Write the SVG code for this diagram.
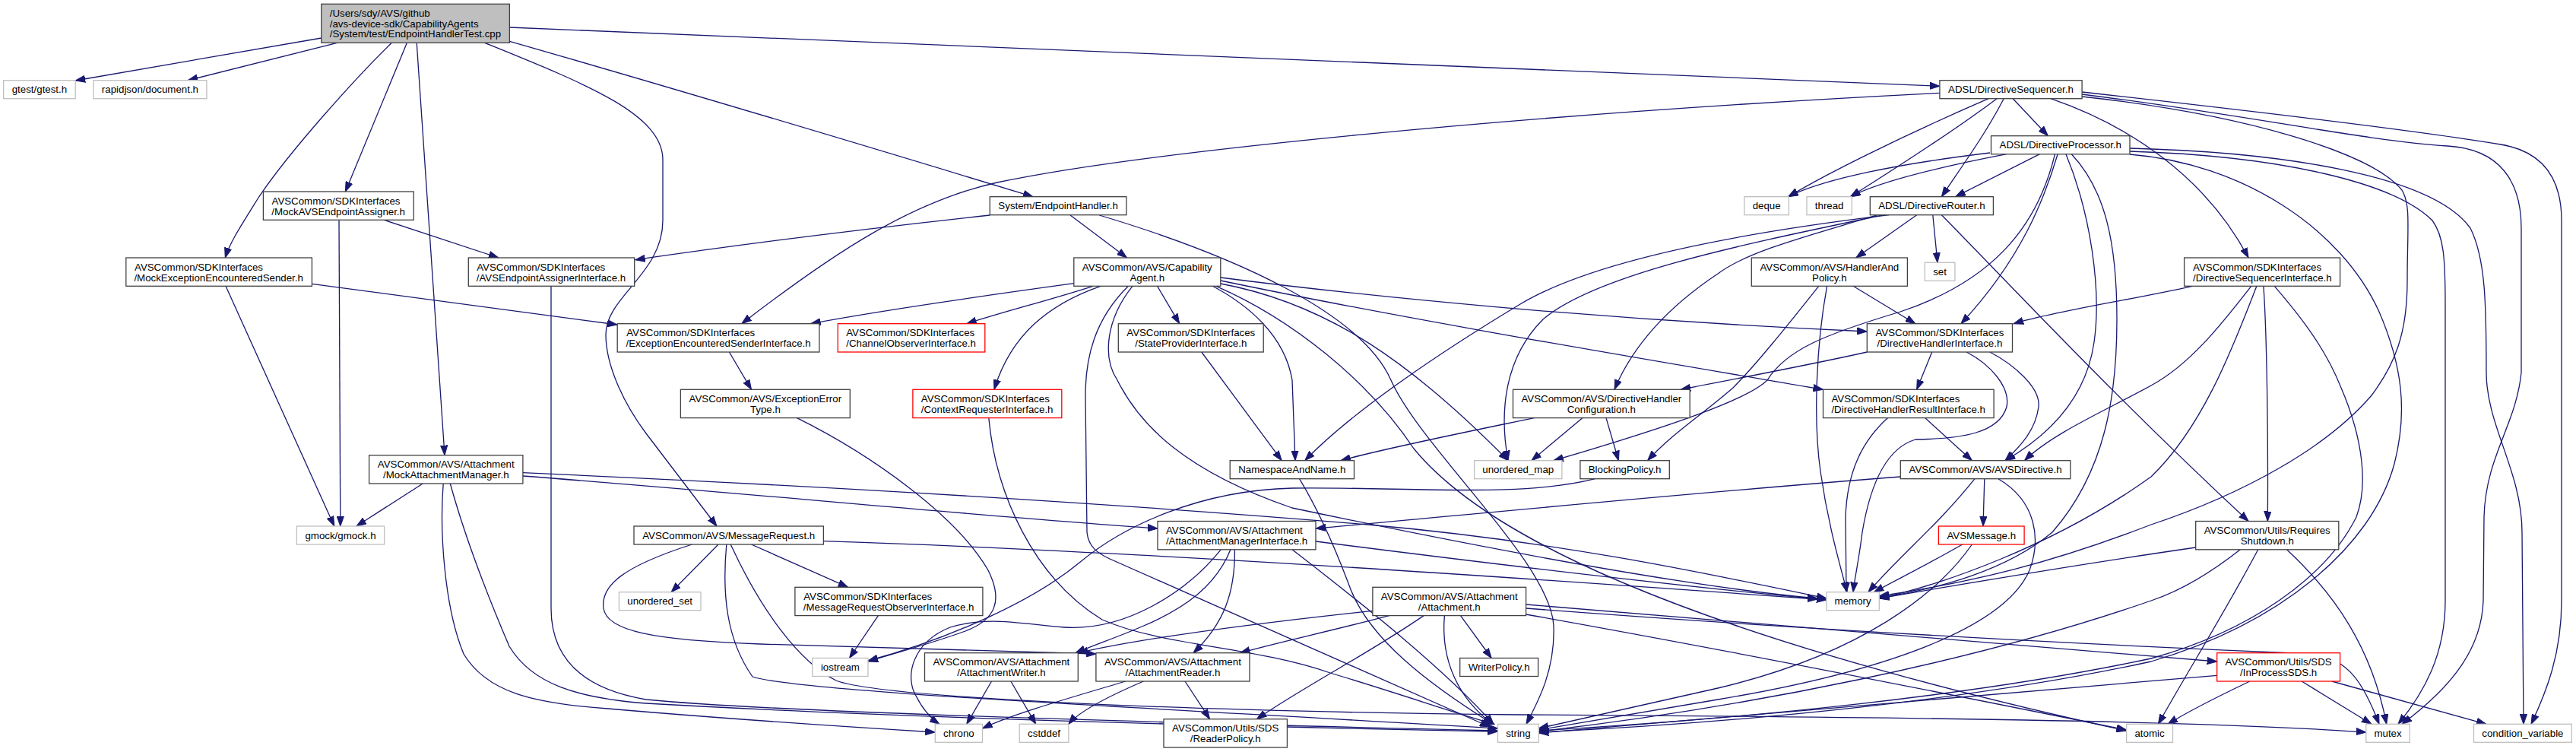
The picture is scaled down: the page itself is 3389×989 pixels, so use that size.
<svg xmlns="http://www.w3.org/2000/svg" width="3389" height="989" viewBox="0 0 3389 989">
<defs>
<marker id="ah" markerUnits="userSpaceOnUse" markerWidth="14" markerHeight="10" refX="13" refY="5" orient="auto">
<path d="M0,0.4 L13,5 L0,9.6 z" fill="#191970" stroke="#191970" stroke-width="1"/>
</marker>
<style>
.n rect{fill:#fff;stroke:#404040;stroke-width:1.3}
.g rect{stroke:#bfbfbf}
.r rect{stroke:#ff0000}
.root rect{fill:#bfbfbf}
text{font-family:"Liberation Sans",Arial,Helvetica,sans-serif;font-size:13.3px;fill:#000}
.c{text-anchor:middle}
#edges path{fill:none;stroke:#191970;stroke-width:1.3;marker-end:url(#ah)}
</style>
</defs>
<rect width="3389" height="989" fill="#fff"/>
<g id="edges">
<path d="M422.8,50 L99.2,106"/>
<path d="M443.5,56.3 L247.2,105.7"/>
<path d="M515.4,56.3 C470,100 380,200 340,260 C315,300 302,320 296.3,339"/>
<path d="M535.4,56.3 L454.4,252"/>
<path d="M548.2,56.3 L585,598.7"/>
<path d="M637.7,56.3 C770,110 872,150 872,210 L872,290 C872,360 797,390 797,440 C797,480 820,530 850,570 L943,692"/>
<path d="M670.4,54.3 C900,120 1100,180 1359,258.7"/>
<path d="M670.4,36 L2551.9,113.3"/>
<path d="M446,289.3 L447.8,692"/>
<path d="M505.3,289.3 L655.9,339"/>
<path d="M297,376.3 L439.8,692"/>
<path d="M410.4,373.3 L812,427"/>
<path d="M1302.3,283 C1100,305 950,325 835.8,341.7"/>
<path d="M1408.1,283 L1482.6,339"/>
<path d="M1446.3,283 C1620,335 1790,410 1830,500 C1870,590 2040,740 2044,823 C2046,880 2025,920 2008,952.3"/>
<path d="M1412.8,372.7 C1250,395 1150,410 1066.6,425.7"/>
<path d="M1438,376.3 C1380,395 1320,410 1271.8,425.7"/>
<path d="M1448,376.3 C1380,400 1330,440 1308,512.3"/>
<path d="M1522.6,376.3 L1551.7,425.7"/>
<path d="M1595.3,376.3 C1640,400 1690,440 1700,500 L1704,605.7"/>
<path d="M1484.4,376.3 C1440,420 1428,470 1428,520 L1430,700 C1432,720 1445,728 1460,735 L1960,956"/>
<path d="M1489.9,376.3 C1455,420 1450,470 1470,500 C1500,560 1560,620 1700,668 C1900,710 2200,770 2390.9,787"/>
<path d="M1605.8,365 C1800,390 2100,420 2456.3,436"/>
<path d="M1605.8,369 C1850,420 2150,470 2398.5,512.3"/>
<path d="M1605.8,373 C1750,400 1860,480 1984,605.7"/>
<path d="M1600,376.3 C1700,420 1800,500 1860,590 C1950,700 2200,830 2797.6,961"/>
<path d="M2648.2,129.7 L2694.4,178.7"/>
<path d="M2616.2,129.7 C2500,180 2400,230 2352.7,258.7"/>
<path d="M2627.1,129.7 C2560,180 2480,230 2434.5,258.7"/>
<path d="M2636.2,129.7 C2610,180 2580,220 2554.4,258.7"/>
<path d="M2551.9,122.3 C2000,150 1500,200 1311.8,240 C1200,265 1100,330 975.8,425.7"/>
<path d="M2698,129.7 C2800,165 2900,230 2958.1,339"/>
<path d="M2739.1,127 C2950,150 3120,200 3160,250 C3172,270 3167,300 3167,370 C3167,440 3150,480 3120,520 C3060,590 2950,650 2830,690 C2700,740 2600,765 2472.3,784"/>
<path d="M2739.1,124 C2950,150 3110,185 3220,192 C3290,196 3317,240 3317,300 L3317,490 C3310,560 3270,600 3268,680 L3267,790 C3265,850 3230,900 3160,952.3"/>
<path d="M2739.1,121 C3000,150 3200,175 3290,190 C3350,200 3370,240 3370,290 L3370,790 C3370,860 3350,910 3330,952.3"/>
<path d="M2618,201 C2500,215 2400,235 2352.7,258.7"/>
<path d="M2639.9,202.7 C2550,220 2470,240 2434.5,258.7"/>
<path d="M2683.5,202.7 L2572.6,258.7"/>
<path d="M2707.1,202.7 C2690,260 2660,340 2579.9,425.7"/>
<path d="M2703.5,202.7 C2680,300 2620,370 2500,410 C2400,440 2350,460 2325,500 C2300,525 2200,560 2044,605.7"/>
<path d="M2718,202.7 C2750,280 2765,380 2755,450 C2745,520 2700,570 2638,605.7"/>
<path d="M2725.3,202.7 C2770,250 2785,320 2785,420 C2785,520 2770,620 2700,700 C2640,750 2550,775 2472.3,786"/>
<path d="M2802,195 C3000,200 3200,230 3250,300 C3270,340 3271,400 3271,490 C3271,560 3318,620 3318,700 L3320,952.3"/>
<path d="M2802,199 C3000,205 3150,240 3200,290 C3215,310 3217,340 3217,400 L3217,790 C3217,860 3190,910 3155,952.3"/>
<path d="M2802,203 C2950,215 3080,300 3130,410 C3160,480 3168,540 3150,610 C3120,720 3000,820 2830,870 C2600,920 2300,950 2024.3,963"/>
<path d="M2884.4,376.3 C2800,395 2700,410 2649,425.7"/>
<path d="M2961.7,376.3 C2920,430 2880,480 2830,507 C2770,540 2700,570 2663.5,605.7"/>
<path d="M2968.9,376.3 C2940,450 2900,560 2830,627 C2700,720 2550,770 2472.3,787"/>
<path d="M2977.9,376.3 C2983,450 2984,600 2983.3,685.5"/>
<path d="M2992.3,376.3 C3030,420 3060,460 3080,510 C3110,580 3115,640 3100,680 C3060,760 2960,830 2830,866 C2600,915 2300,945 2024.3,961"/>
<path d="M2542.8,282.7 L2549,345.3"/>
<path d="M2521.7,282.7 L2441.8,339"/>
<path d="M2554.4,282.7 C2650,380 2780,520 2958.1,685.5"/>
<path d="M2485.4,282.7 C2300,305 2100,340 2000,400 C1900,460 1780,540 1716.8,605.7"/>
<path d="M2478.1,282.7 C2300,320 2100,360 2030,420 C1980,470 1972,540 1984,605.7"/>
<path d="M2470,282.7 C2380,310 2300,330 2260,360 C2200,400 2150,450 2124,512.3"/>
<path d="M2438.1,376.3 L2519.9,425.7"/>
<path d="M2392.7,376.3 C2350,430 2310,480 2280,510 C2240,545 2200,570 2167.6,605.7"/>
<path d="M2403.6,376.3 C2390,450 2385,550 2395,620 C2405,690 2420,740 2430,778.7"/>
<path d="M2456.3,463 C2380,480 2300,495 2211.2,512.3"/>
<path d="M2541.7,463 L2521.7,512.3"/>
<path d="M2587.2,463 C2620,480 2645,510 2640,535 C2630,570 2580,577 2520,578 C2480,590 2460,640 2450,700 C2445,740 2440,760 2438,778.7"/>
<path d="M2618,463 C2650,480 2685,510 2682,535 C2678,565 2660,585 2638,605.7"/>
<path d="M2018.5,549.6 C1920,570 1820,590 1764,605.7"/>
<path d="M2082.1,549.6 L2014.9,605.7"/>
<path d="M2113,549.6 L2129.4,605.7"/>
<path d="M2483.6,549.6 C2450,580 2430,620 2428,680 L2429,778.7"/>
<path d="M2532.6,549.6 L2594.4,605.7"/>
<path d="M1580.8,463 L1686.2,605.7"/>
<path d="M959.4,463 L988.5,512.3"/>
<path d="M1048.5,549.6 C1150,600 1260,680 1300,750 C1320,790 1310,815 1270,830 C1220,848 1180,858 1142,870"/>
<path d="M1606.2,722.8 C1560,780 1480,830 1400,825 C1340,820 1300,810 1250,825 C1200,845 1190,890 1205,915 C1215,935 1225,945 1236,952.3"/>
<path d="M2098.5,629.7 C2000,655 1850,640 1700,642 C1580,645 1480,690 1420,740 C1360,790 1250,840 1142,869"/>
<path d="M1155.4,809.6 L1117.5,865.5"/>
<path d="M556.2,636 L468.9,692"/>
<path d="M687.9,621.7 C1100,640 1500,665 1800,690 C2050,712 2250,755 2402.9,787"/>
<path d="M687.9,626 C1000,650 1300,680 1523,695"/>
<path d="M583.2,636 C578,700 585,800 610,860 C640,910 700,925 800,932 C950,945 1100,955 1230.3,963"/>
<path d="M592.3,636 C610,700 640,780 670,850 C700,900 760,918 850,925 C1200,945 1600,955 1970.5,962"/>
<path d="M725,376.3 L725,800 C725,860 760,905 850,920 C1000,935 1500,950 1970.5,961"/>
<path d="M945,716 L883.1,778.7"/>
<path d="M988.5,716 L1115.7,772.3"/>
<path d="M910.3,716 C820,745 790,770 794,800 C798,830 860,842 1000,847 C1200,852 1350,856 1441.9,860"/>
<path d="M961.2,716 C1000,800 1050,870 1100,895 C1150,915 1500,935 2000,940 C2500,943 2900,948 3112.8,963"/>
<path d="M955.8,716 C950,780 955,840 990,890 C1050,910 1500,930 1970.5,958"/>
<path d="M1083.4,711.7 C1500,725 2000,760 2390.9,788"/>
<path d="M1618.9,722.8 C1600,770 1560,800 1500,825 C1470,838 1440,848 1415,858.7"/>
<path d="M1624.4,722.8 C1625,780 1610,820 1570,858.7"/>
<path d="M1731,712 C1950,740 2200,770 2402.9,789"/>
<path d="M1700,722.8 C1800,800 1900,880 1965,952.3"/>
<path d="M1805.9,803.3 C1650,820 1500,840 1418.3,858.7"/>
<path d="M1827.7,809.6 C1750,830 1680,845 1631.6,858.7"/>
<path d="M1873.1,809.6 C1800,860 1720,900 1653.4,945.7"/>
<path d="M1921.5,809.6 L1962.2,865.5"/>
<path d="M1900.4,809.6 C1895,870 1920,920 1964,952.3"/>
<path d="M2007.6,795 C2300,820 2600,845 2916.7,870"/>
<path d="M2007.6,800 C2400,830 2800,850 3040,860 C3090,865 3110,900 3130,952.3"/>
<path d="M2007.6,808 C2300,860 2600,920 2797.6,960"/>
<path d="M2500.3,627 C2200,650 1900,680 1731,695"/>
<path d="M2610.8,629.7 L2609,692"/>
<path d="M2598,629.7 C2550,690 2500,730 2458,778.7"/>
<path d="M2629,629.7 C2680,660 2685,710 2670,750 C2640,820 2500,880 2260,920 C2150,938 2080,950 2024.3,960"/>
<path d="M2581.7,716 C2540,740 2500,760 2465.4,778.7"/>
<path d="M2594.4,716 C2550,780 2450,860 2260,905 C2150,930 2080,945 2024.3,958"/>
<path d="M2888.7,720 C2750,740 2600,765 2472.3,787"/>
<path d="M2947.3,722.8 C2900,760 2860,780 2830,790 C2600,870 2300,930 2024.3,962"/>
<path d="M2970.7,722.8 C2930,800 2880,880 2839.4,952.3"/>
<path d="M3008.5,722.8 C3070,780 3120,850 3139.7,952.3"/>
<path d="M2959.9,896 C2920,915 2880,935 2852,952.3"/>
<path d="M3028.2,896 L3120,952.3"/>
<path d="M3067.8,896 L3271,952.3"/>
<path d="M2916.7,888.3 C2600,915 2300,940 2024.3,964"/>
<path d="M1304.5,896 L1271.8,952.3"/>
<path d="M1329.9,896 L1362.7,952.3"/>
<path d="M1480.8,896 C1400,920 1330,940 1292.5,958"/>
<path d="M1504.4,896 C1460,915 1420,935 1405.9,952.3"/>
<path d="M1559,896 L1591.6,945.7"/>
<path d="M1709.5,629.7 C1740,680 1760,730 1775,770 C1800,840 1880,900 1964,952.3"/>
<path d="M1300.8,549.6 C1310,650 1360,760 1450,815 C1530,850 1650,850 1750,885 C1850,915 1920,940 1966,952.3"/>
</g>
<g id="n1" class="n root"><rect x="422.8" y="5.3" width="247.6" height="51"/><text x="433.7" y="22.1">/Users/sdy/AVS/github</text><text x="433.7" y="35.6">/avs-device-sdk/CapabilityAgents</text><text x="433.7" y="49.1">/System/test/EndpointHandlerTest.cpp</text></g>
<g id="n2" class="n g"><rect x="4.7" y="105.7" width="94.5" height="24"/><text class="c" x="51.95" y="122.3">gtest/gtest.h</text></g>
<g id="n3" class="n g"><rect x="122.9" y="105.7" width="149" height="24"/><text class="c" x="197.4" y="122.3">rapidjson/document.h</text></g>
<g id="n4" class="n"><rect x="2551.9" y="105.7" width="187.2" height="24"/><text class="c" x="2645.5" y="122.3">ADSL/DirectiveSequencer.h</text></g>
<g id="n5" class="n"><rect x="2619.5" y="178.7" width="182.5" height="24"/><text class="c" x="2710.75" y="195.3">ADSL/DirectiveProcessor.h</text></g>
<g id="n6" class="n g"><rect x="2294.9" y="258.7" width="58.5" height="24"/><text class="c" x="2324.15" y="275.3">deque</text></g>
<g id="n7" class="n g"><rect x="2377" y="258.7" width="59.3" height="24"/><text class="c" x="2406.65" y="275.3">thread</text></g>
<g id="n8" class="n"><rect x="2460.3" y="258.7" width="162.1" height="24"/><text class="c" x="2541.35" y="275.3">ADSL/DirectiveRouter.h</text></g>
<g id="n9" class="n"><rect x="346.4" y="252" width="197.8" height="37.3"/><text x="357.5" y="268.5">AVSCommon/SDKInterfaces</text><text x="357.3" y="282.5">/MockAVSEndpointAssigner.h</text></g>
<g id="n10" class="n"><rect x="1302.3" y="258.7" width="179.6" height="24"/><text class="c" x="1392.1" y="275.3">System/EndpointHandler.h</text></g>
<g id="n11" class="n"><rect x="165.8" y="339" width="244.6" height="37.3"/><text x="177" y="355.5">AVSCommon/SDKInterfaces</text><text x="176.4" y="369.5">/MockExceptionEncounteredSender.h</text></g>
<g id="n12" class="n"><rect x="616.3" y="339" width="218.4" height="37.3"/><text x="627.2" y="355.5">AVSCommon/SDKInterfaces</text><text x="626.8" y="369.5">/AVSEndpointAssignerInterface.h</text></g>
<g id="n13" class="n"><rect x="1412.8" y="339" width="193" height="37.3"/><text class="c" x="1509.3" y="355.5">AVSCommon/AVS/Capability</text><text class="c" x="1509.3" y="369.5">Agent.h</text></g>
<g id="n14" class="n"><rect x="2304.3" y="339" width="205.1" height="37.3"/><text class="c" x="2406.85" y="355.5">AVSCommon/AVS/HandlerAnd</text><text class="c" x="2406.85" y="369.5">Policy.h</text></g>
<g id="n15" class="n g"><rect x="2532.3" y="345.3" width="39.6" height="24"/><text class="c" x="2552.1" y="361.9">set</text></g>
<g id="n16" class="n"><rect x="2873.6" y="339" width="205" height="37.3"/><text x="2885.1" y="355.5">AVSCommon/SDKInterfaces</text><text x="2885.1" y="369.5">/DirectiveSequencerInterface.h</text></g>
<g id="n17" class="n"><rect x="812.2" y="425.7" width="265.7" height="37.3"/><text x="824.2" y="442.2">AVSCommon/SDKInterfaces</text><text x="823.5" y="456.2">/ExceptionEncounteredSenderInterface.h</text></g>
<g id="n18" class="n r"><rect x="1102.3" y="425.7" width="193.5" height="37.3"/><text x="1113.2" y="442.2">AVSCommon/SDKInterfaces</text><text x="1113.2" y="456.2">/ChannelObserverInterface.h</text></g>
<g id="n19" class="n"><rect x="1471.3" y="425.7" width="190.9" height="37.3"/><text class="c" x="1566.75" y="442.2">AVSCommon/SDKInterfaces</text><text class="c" x="1566.75" y="456.2">/StateProviderInterface.h</text></g>
<g id="n20" class="n"><rect x="2456.3" y="425.7" width="191.2" height="37.3"/><text class="c" x="2551.9" y="442.2">AVSCommon/SDKInterfaces</text><text class="c" x="2551.9" y="456.2">/DirectiveHandlerInterface.h</text></g>
<g id="n21" class="n"><rect x="895.4" y="512.3" width="222.9" height="37.3"/><text class="c" x="1006.85" y="528.8">AVSCommon/AVS/ExceptionError</text><text class="c" x="1006.85" y="542.8">Type.h</text></g>
<g id="n22" class="n r"><rect x="1200.9" y="512.3" width="195.9" height="37.3"/><text x="1211.8" y="528.8">AVSCommon/SDKInterfaces</text><text x="1211.8" y="542.8">/ContextRequesterInterface.h</text></g>
<g id="n23" class="n"><rect x="1990.5" y="512.3" width="232.7" height="37.3"/><text class="c" x="2106.85" y="528.8">AVSCommon/AVS/DirectiveHandler</text><text class="c" x="2106.85" y="542.8">Configuration.h</text></g>
<g id="n24" class="n"><rect x="2398.5" y="512.3" width="224.6" height="37.3"/><text x="2409.4" y="528.8">AVSCommon/SDKInterfaces</text><text x="2409.4" y="542.8">/DirectiveHandlerResultInterface.h</text></g>
<g id="n25" class="n"><rect x="485.6" y="598.7" width="202.3" height="37.3"/><text class="c" x="586.75" y="615.2">AVSCommon/AVS/Attachment</text><text class="c" x="586.75" y="629.2">/MockAttachmentManager.h</text></g>
<g id="n26" class="n"><rect x="1618.2" y="605.7" width="163.3" height="24"/><text class="c" x="1699.85" y="622.3">NamespaceAndName.h</text></g>
<g id="n27" class="n g"><rect x="1939.6" y="605.7" width="115.3" height="24"/><text class="c" x="1997.25" y="622.3">unordered_map</text></g>
<g id="n28" class="n"><rect x="2078.9" y="605.7" width="117.4" height="24"/><text class="c" x="2137.6" y="622.3">BlockingPolicy.h</text></g>
<g id="n29" class="n"><rect x="2500.3" y="605.7" width="223.5" height="24"/><text class="c" x="2612.05" y="622.3">AVSCommon/AVS/AVSDirective.h</text></g>
<g id="n30" class="n g"><rect x="390.4" y="692" width="115.2" height="24"/><text class="c" x="448" y="708.6">gmock/gmock.h</text></g>
<g id="n31" class="n"><rect x="834" y="692" width="249.4" height="24"/><text class="c" x="958.7" y="708.6">AVSCommon/AVS/MessageRequest.h</text></g>
<g id="n32" class="n"><rect x="1523" y="685.5" width="208" height="37.3"/><text x="1533.9" y="702">AVSCommon/AVS/Attachment</text><text x="1533.9" y="716">/AttachmentManagerInterface.h</text></g>
<g id="n33" class="n r"><rect x="2550.4" y="692" width="112.7" height="24"/><text class="c" x="2606.75" y="708.6">AVSMessage.h</text></g>
<g id="n34" class="n"><rect x="2888.7" y="685.5" width="188.1" height="37.3"/><text class="c" x="2982.75" y="702">AVSCommon/Utils/Requires</text><text class="c" x="2982.75" y="716">Shutdown.h</text></g>
<g id="n35" class="n g"><rect x="814.4" y="778.7" width="107.6" height="24"/><text class="c" x="868.2" y="795.3">unordered_set</text></g>
<g id="n36" class="n"><rect x="1045.9" y="772.3" width="247" height="37.3"/><text x="1057.2" y="788.8">AVSCommon/SDKInterfaces</text><text x="1056.8" y="802.8">/MessageRequestObserverInterface.h</text></g>
<g id="n37" class="n"><rect x="1805.9" y="772.3" width="201.7" height="37.3"/><text class="c" x="1906.75" y="788.8">AVSCommon/AVS/Attachment</text><text class="c" x="1906.75" y="802.8">/Attachment.h</text></g>
<g id="n38" class="n g"><rect x="2402.9" y="778.7" width="69.4" height="24"/><text class="c" x="2437.6" y="795.3">memory</text></g>
<g id="n39" class="n g"><rect x="1068.8" y="865.5" width="73.2" height="24"/><text class="c" x="1105.4" y="882.1">iostream</text></g>
<g id="n40" class="n"><rect x="1216.5" y="858.7" width="201.8" height="37.3"/><text class="c" x="1317.4" y="875.2">AVSCommon/AVS/Attachment</text><text class="c" x="1317.4" y="889.2">/AttachmentWriter.h</text></g>
<g id="n41" class="n"><rect x="1441.9" y="858.7" width="202.1" height="37.3"/><text class="c" x="1542.95" y="875.2">AVSCommon/AVS/Attachment</text><text class="c" x="1542.95" y="889.2">/AttachmentReader.h</text></g>
<g id="n42" class="n"><rect x="1920.7" y="865.5" width="102.9" height="24"/><text class="c" x="1972.15" y="882.1">WriterPolicy.h</text></g>
<g id="n43" class="n r"><rect x="2916.7" y="858.7" width="161.9" height="37.3"/><text class="c" x="2997.65" y="875.2">AVSCommon/Utils/SDS</text><text class="c" x="2997.65" y="889.2">/InProcessSDS.h</text></g>
<g id="n44" class="n g"><rect x="1230.3" y="952.3" width="62.2" height="24"/><text class="c" x="1261.4" y="968.9">chrono</text></g>
<g id="n45" class="n g"><rect x="1341.2" y="952.3" width="64.7" height="24"/><text class="c" x="1373.55" y="968.9">cstddef</text></g>
<g id="n46" class="n"><rect x="1531" y="945.7" width="162.4" height="37.3"/><text class="c" x="1612.2" y="962.2">AVSCommon/Utils/SDS</text><text class="c" x="1612.2" y="976.2">/ReaderPolicy.h</text></g>
<g id="n47" class="n g"><rect x="1970.5" y="952.3" width="53.8" height="24"/><text class="c" x="1997.4" y="968.9">string</text></g>
<g id="n48" class="n g"><rect x="2797.6" y="952.3" width="60.9" height="24"/><text class="c" x="2828.05" y="968.9">atomic</text></g>
<g id="n49" class="n g"><rect x="3112.8" y="952.3" width="57.5" height="24"/><text class="c" x="3141.55" y="968.9">mutex</text></g>
<g id="n50" class="n g"><rect x="3254.5" y="952.3" width="128.8" height="24"/><text class="c" x="3318.9" y="968.9">condition_variable</text></g>
</svg>
